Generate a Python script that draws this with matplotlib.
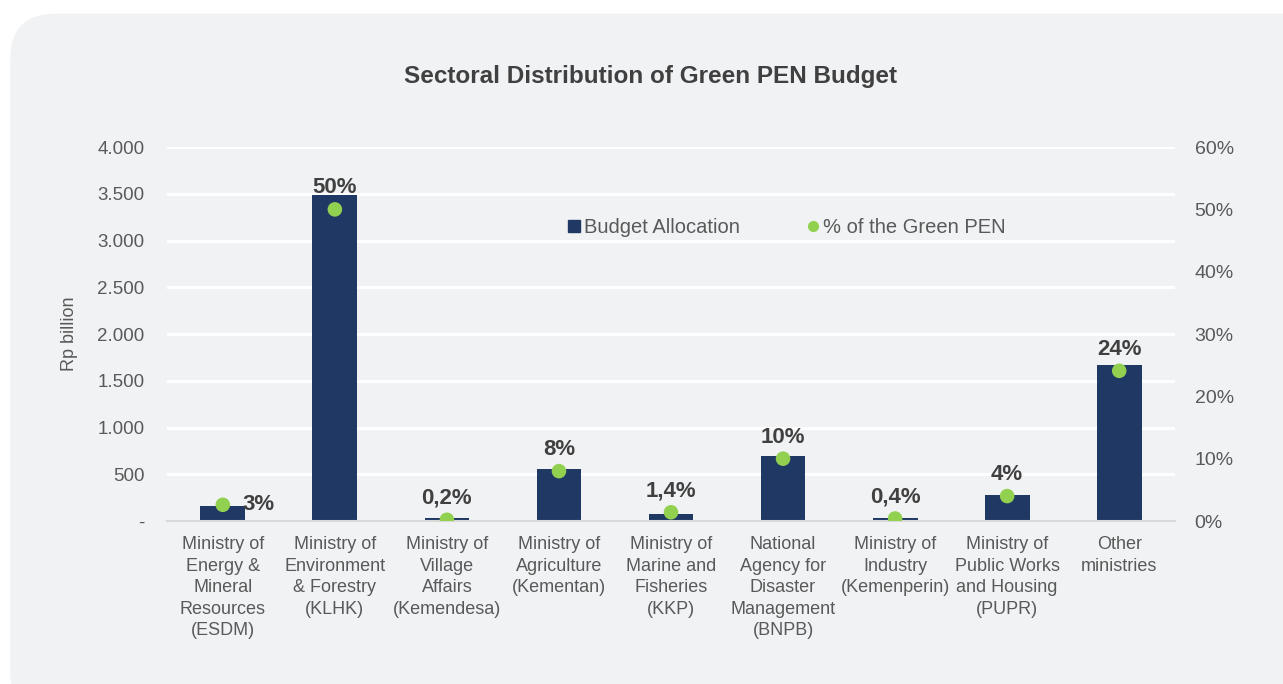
import numpy as np
import matplotlib.pyplot as plt
from matplotlib.patches import FancyBboxPatch
from matplotlib.lines import Line2D
from matplotlib.ticker import FixedLocator, FixedFormatter

plt.rcParams['font.family'] = ['Liberation Sans', 'DejaVu Sans']

categories = ["Ministry of\nEnergy &\nMineral\nResources\n(ESDM)",
              "Ministry of\nEnvironment\n& Forestry\n(KLHK)",
              "Ministry of\nVillage\nAffairs\n(Kemendesa)",
              "Ministry of\nAgriculture\n(Kementan)",
              "Ministry of\nMarine and\nFisheries\n(KKP)",
              "National\nAgency for\nDisaster\nManagement\n(BNPB)",
              "Ministry of\nIndustry\n(Kemenperin)",
              "Ministry of\nPublic Works\nand Housing\n(PUPR)",
              "Other\nministries"]
budget = [160, 3487, 30, 556, 75, 695, 30, 278, 1668]
share = [2.6, 50.0, 0.2, 8.0, 1.4, 10.0, 0.4, 4.0, 24.1]
share_labels = ["3%", "50%", "0,2%", "8%", "1,4%", "10%", "0,4%", "4%", "24%"]
left_ticks = [0, 500, 1000, 1500, 2000, 2500, 3000, 3500, 4000]
left_labels = ["-", "500", "1.000", "1.500", "2.000", "2.500", "3.000", "3.500", "4.000"]
right_ticks = [0, 10, 20, 30, 40, 50, 60]

bar_color = "#203864"
dot_color = "#92d050"
text_color = "#404040"
tick_color = "#595959"
bg = "#f1f2f4"

fig = plt.figure(figsize=(12.83, 6.84), dpi=100)
fig.patch.set_facecolor("white")
card = FancyBboxPatch((0.008, -0.05), 1.05, 1.03, transform=fig.transFigure,
                      boxstyle="round,pad=0,rounding_size=0.035",
                      facecolor=bg, edgecolor="none", mutation_aspect=1283 / 684,
                      zorder=-10)
fig.patches.append(card)

ax = fig.add_axes([0.130, 0.2383, 0.786, 0.5467])
ax.patch.set_alpha(0)
x = np.arange(len(categories))
ax.bar(x, budget, width=0.4, color=bar_color, zorder=2)
ax.set_xlim(-0.5, len(categories) - 0.5)
ax.set_ylim(0, 4000)
ax.yaxis.set_major_locator(FixedLocator(left_ticks))
ax.yaxis.set_major_formatter(FixedFormatter(left_labels))
ax.grid(axis="y", color="white", linewidth=2.2, zorder=0)
ax.set_axisbelow(True)
for s in ["top", "right", "left"]:
    ax.spines[s].set_visible(False)
ax.spines["bottom"].set_color("#d9d9d9")
ax.spines["bottom"].set_linewidth(1.5)
ax.set_xticks(x)
ax.set_xticklabels(categories, fontsize=13, color=tick_color, linespacing=1.35)
ax.tick_params(axis="x", length=0, pad=11)
ax.tick_params(axis="y", length=0, labelsize=13.5, labelcolor=tick_color, pad=16)
ax.set_ylabel("Rp billion", fontsize=13, color=tick_color, labelpad=14)

ax2 = ax.twinx()
ax2.set_ylim(0, 60)
ax2.set_yticks(right_ticks)
ax2.set_yticklabels([f"{t}%" for t in right_ticks])
ax2.tick_params(axis="y", length=0, labelsize=14, labelcolor=tick_color, pad=14)
for s in ax2.spines.values():
    s.set_visible(False)
ax2.scatter(x, share, s=110, color=dot_color, zorder=3, edgecolors="none")

for i, (v, lab) in enumerate(zip(share, share_labels)):
    if i == 0:
        ax2.annotate(lab, (i, v), xytext=(14, 0), textcoords="offset points",
                     ha="left", va="center", fontsize=16, fontweight="bold", color=text_color)
    else:
        ax2.annotate(lab, (i, v), xytext=(0, 8), textcoords="offset points",
                     ha="center", va="bottom", fontsize=16, fontweight="bold", color=text_color)

handles = [Line2D([], [], marker="s", linestyle="none", color=bar_color, markersize=8),
           Line2D([], [], marker="o", linestyle="none", color=dot_color, markersize=7)]
ax2.legend(handles, ["Budget Allocation", "% of the Green PEN"], loc="center",
           bbox_to_anchor=(0.612, 0.786), ncol=2, frameon=False, fontsize=14.5,
           handletextpad=-0.1, handlelength=1.2, columnspacing=3.0, labelcolor=tick_color)

fig.text(0.507, 0.888, "Sectoral Distribution of Green PEN Budget", ha="center", va="center",
         fontsize=17.5, fontweight="bold", color=text_color)

fig.savefig("out.png", dpi=100, facecolor=fig.get_facecolor())
